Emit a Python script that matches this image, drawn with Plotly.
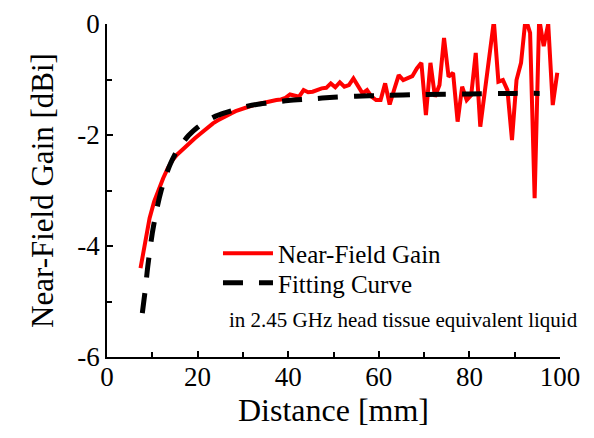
import plotly.graph_objects as go

# ---- data ----
distance_mm = [7.4, 8.4, 9.4, 10.4, 11.4, 12.4, 13.4, 14.4, 15.4, 16.4, 17.4, 18.4, 19.4,
               20.4, 21.4, 22.4, 23.4, 24.4, 25.4, 26.4, 27.4, 28.4, 29.4, 30.4, 31.4, 32.4,
               33.4, 34.4, 35.4, 36.4, 37.4, 38.4, 39.4, 40.4, 41.4, 42.4, 43.4, 44.4, 45.4,
               46.4, 47.4, 48.4, 49.4, 50.4, 51.4, 52.4, 53.4, 54.4, 55.4, 56.4, 57.4, 58.4,
               59.4, 60.4, 61.4, 62.4, 63.4, 64.4, 65.4, 66.4, 67.4, 68.4, 69.4, 70.4, 71.4,
               72.4, 73.4, 74.4, 75.4, 76.4, 77.4, 78.4, 79.4, 80.4, 81.4, 82.4, 83.4, 84.4,
               85.4, 86.4, 87.4, 88.4, 89.4, 90.4, 91.4, 92.4, 93.4, 94.4, 95.4, 96.4, 97.4,
               98.4, 99.4]
near_field_gain = [-4.40, -3.90, -3.50, -3.20, -2.97, -2.78, -2.60, -2.46, -2.36, -2.28, -2.20,
                   -2.13, -2.06, -1.99, -1.92, -1.85, -1.79, -1.74, -1.69, -1.65, -1.61, -1.57,
                   -1.54, -1.51, -1.49, -1.46, -1.44, -1.42, -1.40, -1.38, -1.37, -1.36, -1.33,
                   -1.27, -1.29, -1.31, -1.19, -1.23, -1.22, -1.19, -1.16, -1.15, -1.07, -1.14,
                   -1.05, -1.13, -1.10, -0.98, -1.12, -1.25, -1.19, -1.31, -1.37, -1.37, -1.07,
                   -1.45, -1.18, -0.92, -1.01, -0.98, -0.94, -0.80, -0.70, -1.64, -0.70, -1.31,
                   -1.10, -0.25, -0.95, -0.88, -1.76, -1.13, -1.37, -1.28, -0.52, -1.85, -1.22,
                   -0.65, 0.05, -1.04, -1.01, -1.19, -2.09, -1.01, -0.70, 0.10, -0.16, -3.14,
                   0.10, -0.40, 0.00, -1.46, -0.88]

fit_distance_mm = [7.8, 8.5, 9, 10, 11, 12, 13, 14, 15, 16, 18, 20, 22, 24, 26, 28, 30, 33, 36,
                   40, 45, 50, 55, 60, 70, 80, 90, 95.5]
fit_gain = [-5.21, -4.75, -4.37, -3.77, -3.33, -2.99, -2.73, -2.52, -2.35, -2.22, -2.01, -1.86,
            -1.75, -1.66, -1.60, -1.55, -1.50, -1.45, -1.42, -1.38, -1.35, -1.32, -1.30, -1.29,
            -1.27, -1.26, -1.25, -1.25]

x_ticks = [0, 20, 40, 60, 80, 100]
y_ticks = [-6, -4, -2, 0]

FONT = "Liberation Serif"

fig = go.Figure()
fig.add_trace(go.Scatter(x=distance_mm, y=near_field_gain, mode="lines",
                         name="Near-Field Gain", legend="legend",
                         line=dict(color="#ff0000", width=4)))
fig.add_trace(go.Scatter(x=fit_distance_mm, y=fit_gain, mode="lines",
                         name="Fitting Curve", legend="legend2",
                         line=dict(color="#000000", width=5, dash="20px,16px",
                                   shape="spline", smoothing=0.8)))

legend_common = dict(xanchor="left", yanchor="middle", bgcolor="rgba(0,0,0,0)",
                     borderwidth=0, font=dict(family=FONT, size=25, color="black"),
                     itemwidth=50)

fig.update_layout(
    width=594, height=438,
    margin=dict(l=107, r=34, t=24, b=81),
    paper_bgcolor="white", plot_bgcolor="white",
    font=dict(family=FONT, color="black"),
    showlegend=True,
    legend=dict(x=0.245, y=0.311, **legend_common),
    legend2=dict(x=0.245, y=0.222, **legend_common),
    annotations=[dict(text="in 2.45 GHz head tissue equivalent liquid",
                      xref="paper", yref="paper", x=0.265, y=0.111,
                      xanchor="left", yanchor="middle", showarrow=False,
                      font=dict(family=FONT, size=21, color="black"))],
)

fig.update_xaxes(
    range=[0, 100], tickvals=x_ticks, ticktext=[str(v) for v in x_ticks],
    showgrid=False, zeroline=False, automargin=False,
    showline=True, linecolor="black", linewidth=1.5,
    ticks="inside", ticklen=6, tickwidth=1.5, tickcolor="black",
    ticklabelstandoff=-5,
    minor=dict(dtick=10, tick0=0, ticks="inside", ticklen=5, tickwidth=1.5, tickcolor="black", showgrid=False),
    tickfont=dict(family=FONT, size=27, color="black"),
    title=dict(text="Distance [mm]", font=dict(family=FONT, size=32, color="black"), standoff=4),
)
fig.update_yaxes(
    range=[-6, 0], tickvals=y_ticks, ticktext=[str(v) for v in y_ticks],
    showgrid=False, zeroline=False, automargin=False,
    showline=True, linecolor="black", linewidth=1.5,
    ticks="inside", ticklen=6, tickwidth=1.5, tickcolor="black",
    minor=dict(dtick=1, tick0=0, ticks="inside", ticklen=5, tickwidth=1.5, tickcolor="black", showgrid=False),
    tickfont=dict(family=FONT, size=27, color="black"),
    title=dict(text="Near-Field Gain [dBi]", font=dict(family=FONT, size=31, color="black"), standoff=14),
)

fig.write_html("out.html", config={"displayModeBar": False},
               post_script="document.body.style.margin='0';")
